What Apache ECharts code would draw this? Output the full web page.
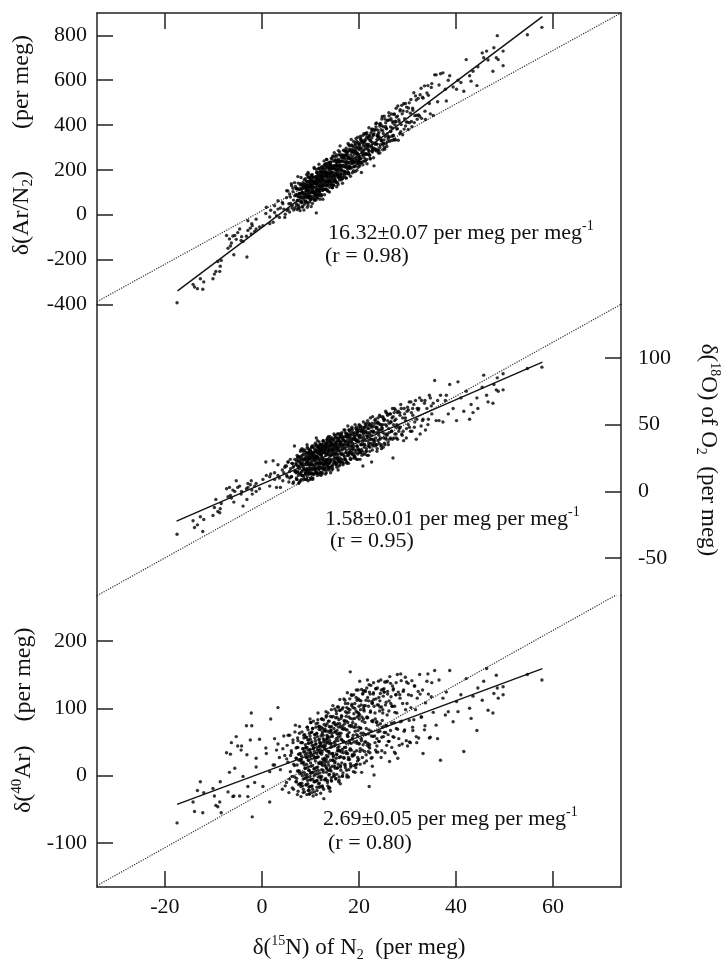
<!DOCTYPE html>
<html><head><meta charset="utf-8">
<script src="https://cdn.jsdelivr.net/npm/echarts@6/dist/echarts.min.js"></script>
<style>html,body{margin:0;padding:0;background:#fff}#c{width:724px;height:965px}</style>
</head><body><div id="c"></div>
<script>
// ---- tick labels ----
const xTicks = [-20, 0, 20, 40, 60];
const arN2Ticks = [-400, -200, 0, 200, 400, 600, 800];
const o18Ticks = [-50, 0, 50, 100];
const ar40Ticks = [-100, 0, 100, 200];

// ---- samples: δ15N of N2 (x, shared by the three panels) ----
const d15N = [
 -17.5,-14.2,-13.9,-13.3,-12.7,-12.2,-12.0,-10.1,-9.8,-9.5,
 -9.1,-8.7,-8.6,-8.4,-7.3,-7.0,-6.7,-6.5,-6.3,-6.0,
 -5.8,-5.6,-5.3,-5.0,-4.6,-4.3,-4.2,-3.9,-3.2,-3.1,
 -2.9,-2.9,-2.4,-2.2,-2.1,-2.0,-1.5,-1.2,-1.2,-0.5,
 0.2,0.8,0.9,1.6,1.6,1.8,2.3,2.6,2.6,3.0,
 3.3,3.3,3.6,3.8,4.2,4.5,4.7,
 4.3,4.8,5.1,5.4,5.7,5.9,
 6.1,6.2,6.4,6.5,6.7,6.8,7.0,7.1,7.3,7.4,7.6,7.7,7.9,8.0,
 8.1,8.2,8.3,8.4,8.5,8.6,8.7,8.8,8.9,9.0,9.1,9.2,9.3,9.4,9.5,9.5,9.6,9.7,9.8,9.8,9.9,9.9,10.0,
 10.1,10.1,10.2,10.3,10.3,10.4,10.5,10.5,10.6,10.7,10.8,10.8,10.9,11.0,11.0,11.1,11.2,11.3,11.3,11.4,11.5,11.5,11.6,11.7,11.8,11.8,11.9,12.0,
 12.1,12.1,12.2,12.3,12.3,12.4,12.5,12.5,12.6,12.7,12.8,12.8,12.9,13.0,13.0,13.1,13.2,13.3,13.3,13.4,13.5,13.5,13.6,13.7,13.8,13.8,13.9,14.0,
 14.1,14.2,14.2,14.3,14.4,14.5,14.5,14.6,14.7,14.8,14.9,15.0,15.0,15.1,15.2,15.3,15.3,15.4,15.5,15.5,15.6,15.7,15.8,15.8,15.9,16.0,16.0,
 16.1,16.2,16.3,16.4,16.5,16.6,16.7,16.8,16.9,17.0,17.0,17.1,17.2,17.3,17.4,17.5,17.5,17.6,17.7,17.8,17.8,17.9,18.0,18.0,
 18.1,18.2,18.3,18.4,18.5,18.6,18.7,18.8,18.9,19.0,19.1,19.2,19.3,19.4,19.5,19.5,19.6,19.7,19.8,19.9,20.0,20.0,
 20.1,20.2,20.3,20.4,20.5,20.6,20.7,20.8,20.9,21.0,21.1,21.2,21.3,21.4,21.5,21.6,21.7,21.8,21.9,22.0,
 22.1,22.2,22.3,22.5,22.6,22.7,22.8,22.9,23.0,23.1,23.3,23.4,23.5,23.6,23.7,23.8,23.9,24.0,
 24.1,24.3,24.4,24.6,24.7,24.9,25.0,25.2,25.3,25.5,25.6,25.7,25.8,25.9,26.0,
 26.2,26.3,26.5,26.7,26.8,27.0,27.1,27.3,27.4,27.6,27.7,27.9,28.0,
 28.2,28.4,28.5,28.7,28.9,29.0,29.2,29.4,29.6,29.8,30.0,
 30.2,30.4,30.7,30.9,31.1,31.3,31.5,31.8,32.0,
 32.3,32.6,32.9,33.2,33.5,33.7,34.0,
 34.3,34.7,35.0,35.3,35.6,35.9,
 36.2,36.5,36.8,37.3,37.8,
 38.0,38.4,38.7,39.4,
 40.1,40.4,41.0,41.6,42.1,42.8,43.1,43.5,44.3,44.5,
 45.4,45.7,46.3,46.6,47.6,47.8,48.3,48.5,48.7,49.7,
 49.7,54.7,57.7,
 // second pass over the dense core
 5.05,5.2,5.35,5.55,5.7,5.85,6.05,6.25,6.4,6.55,6.75,6.9,
 7.05,7.15,7.25,7.35,7.45,7.55,7.65,7.75,7.85,7.95,8.0,8.05,8.15,8.2,8.25,8.35,8.45,8.5,8.55,8.65,8.75,8.8,8.85,8.95,
 9.05,9.1,9.15,9.25,9.3,9.35,9.45,9.55,9.6,9.65,9.75,9.85,9.9,9.95,10.05,10.1,10.15,10.25,10.3,10.35,10.45,10.55,10.6,10.65,10.75,10.85,10.9,10.95,10.05,10.45,10.65,10.85,9.45,9.75,
 11.05,11.1,11.15,11.2,11.25,11.35,11.4,11.45,11.55,11.6,11.65,11.75,11.8,11.85,11.95,12.05,12.1,12.15,12.25,12.3,12.35,12.45,12.5,12.55,12.65,12.7,12.75,12.85,12.9,12.95,11.3,11.7,12.2,12.6,12.4,11.9,
 13.05,13.1,13.15,13.25,13.3,13.35,13.45,13.55,13.6,13.65,13.75,13.85,13.9,13.95,14.05,14.1,14.15,14.25,14.3,14.35,14.45,14.55,14.6,14.65,14.75,14.85,14.9,14.95,13.4,13.8,14.2,14.7,13.2,14.4,
 15.05,15.1,15.2,15.25,15.35,15.4,15.45,15.55,15.6,15.7,15.75,15.85,15.9,15.95,16.05,16.1,16.2,16.25,16.35,16.4,16.45,16.55,16.6,16.7,16.75,16.85,16.9,16.95,15.65,16.15,
 17.05,17.1,17.2,17.25,17.35,17.45,17.55,17.6,17.65,17.75,17.85,17.9,17.95,18.05,18.1,18.2,18.25,18.35,18.45,18.55,18.6,18.65,18.75,18.85,18.9,18.95,17.4,
 19.05,19.15,19.25,19.35,19.45,19.55,19.65,19.75,19.85,19.95,20.05,20.15,20.25,20.35,20.45,20.55,20.65,20.75,20.85,20.95,19.5,20.0,20.5,20.9,
 21.05,21.15,21.25,21.35,21.45,21.55,21.65,21.75,21.85,21.95,22.05,22.15,22.25,22.35,22.45,22.55,22.65,22.75,22.85,22.95,22.0,
 23.05,23.2,23.35,23.45,23.6,23.75,23.85,24.0,24.15,24.25,24.4,24.55,24.65,24.8,24.95,23.7,24.3,24.9,
 25.05,25.15,25.35,25.45,25.6,25.75,25.9,26.05,26.15,26.35,26.5,26.6,26.75,26.9,25.25,
 27.05,27.2,27.35,27.5,27.65,27.8,27.95,28.1,28.3,28.45,28.6,28.8,
 29.1,29.3,29.55,29.75,29.9,30.15,30.35,30.6,30.8,
 31.05,31.4,31.65,31.9,32.2,32.5,32.8,
 33.1,33.6,34.2,34.5,34.9,
 // third pass over the densest part
 7.02,7.12,7.22,7.32,7.42,7.52,7.62,7.72,7.82,7.92,8.02,8.12,8.22,8.32,8.42,8.52,8.62,8.72,8.82,8.92,
 9.02,9.08,9.12,9.18,9.22,9.28,9.32,9.42,9.48,9.52,9.58,9.62,9.72,9.78,9.82,9.88,9.92,9.98,10.02,10.08,10.12,10.22,10.28,10.32,10.42,10.52,10.62,10.72,10.82,10.92,
 11.02,11.08,11.12,11.18,11.22,11.28,11.32,11.42,11.48,11.52,11.58,11.62,11.72,11.78,11.82,11.88,11.92,11.98,12.02,12.08,12.12,12.22,12.28,12.32,12.42,12.48,12.52,12.62,12.72,12.78,12.82,12.92,
 13.02,13.08,13.12,13.18,13.22,13.28,13.32,13.42,13.48,13.52,13.58,13.62,13.72,13.78,13.82,13.88,13.92,13.98,14.02,14.08,14.12,14.22,14.28,14.32,14.42,14.52,14.62,14.72,14.82,14.92,
 15.02,15.08,15.12,15.18,15.28,15.32,15.42,15.48,15.58,15.62,15.72,15.78,15.88,15.92,16.02,16.08,16.12,16.18,16.28,16.32,16.42,16.48,16.58,16.68,16.78,16.88,
 17.02,17.12,17.22,17.32,17.42,17.52,17.62,17.72,17.82,17.92,18.02,18.12,18.22,18.32,18.42,18.52,18.62,18.72,18.82,18.92,17.48,18.38,
 19.02,19.12,19.22,19.32,19.42,19.52,19.62,19.72,19.82,19.92,20.02,20.12,20.22,20.32,20.42,20.52,20.72,20.92,
 21.02,21.18,21.32,21.48,21.62,21.78,21.92,22.08,22.22,22.38,22.52,22.68,22.82,22.98,
 23.1,23.3,23.5,23.7,23.9,24.1,24.3,24.5,24.7,24.9,
 25.15,25.5,25.85,26.2,26.55,26.9,27.25,27.6
];

// ---- δ(Ar/N2) per meg (top panel) ----
const arN2 = [
 -393,-311,-323,-330,-286,-333,-300,-286,-265,-253,
 -209,-253,-230,-204,-93,-150,-108,-140,-126,-95,
 -179,-93,-110,-80,-64,-115,-98,-120,-96,-189,
 -27,-70,-60,-86,-40,-49,-75,-64,-20,-55,
 -49,5,33,-10,-40,20,-34,10,40,-5,
 62,25,-12,30,55,25,-12,
 49,2,107,25,92,50,
 129,30,118,65,143,30,88,115,63,170,28,95,133,79,
 56,133,99,36,118,89,156,77,134,61,107,179,91,127,44,188,110,82,164,104,145,70,132,
 135,70,176,108,153,50,126,166,98,139,76,206,123,159,94,141,8,114,74,161,137,177,109,206,127,102,164,196,
 121,181,88,159,214,136,178,108,154,206,240,173,89,191,151,203,129,171,246,112,189,149,226,132,169,199,151,222,
 209,155,235,132,189,205,120,262,179,260,157,204,174,240,152,198,223,125,217,187,243,175,267,167,203,240,155,
 307,173,265,201,253,160,221,288,194,251,181,233,284,211,163,264,229,276,203,254,189,311,217,252,
 209,286,252,336,311,227,279,245,302,214,270,192,284,340,252,302,228,270,322,243,290,225,
 307,248,335,232,188,330,266,223,310,361,253,295,331,273,359,246,313,294,346,273,
 284,351,252,326,382,284,321,357,254,218,314,380,292,409,315,352,289,345,
 367,300,407,330,397,290,362,440,292,394,316,383,360,421,338,
 346,423,371,449,331,409,351,449,401,334,436,384,485,
 424,362,469,402,450,357,495,428,396,480,413,
 476,410,514,393,466,544,442,512,426,
 445,535,430,520,575,425,543,
 533,450,585,443,624,624,
 504,579,629,633,560,
 507,600,620,570,
 560,600,590,551,692,620,596,640,576,660,
 722,700,730,690,640,745,700,799,692,665,
 730,803,836,
 76,19,106,49,12,79,138,41,103,21,84,126,
 50,117,23,90,141,43,80,116,18,95,75,166,58,119,34,96,143,69,119,21,138,93,59,161,
 119,54,150,87,133,33,115,182,77,148,100,57,127,168,80,121,36,153,99,180,71,123,149,100,211,68,139,89,160,106,145,63,170,80,
 104,170,66,137,202,94,155,126,187,88,149,225,111,172,69,145,191,127,174,89,210,117,168,69,190,151,112,223,144,180,188,85,153,129,191,103,
 187,113,223,145,171,247,108,185,136,216,163,210,101,186,233,149,180,131,252,168,215,121,207,148,239,171,277,148,182,149,220,134,229,174,
 154,245,182,268,144,215,236,173,203,135,286,217,163,234,201,266,178,219,156,256,197,239,140,266,217,254,174,285,179,222,
 267,193,239,165,297,233,190,266,217,318,185,256,232,293,214,251,171,283,245,211,307,238,280,196,327,233,278,
 215,281,318,244,296,198,274,346,238,314,261,217,294,341,252,284,321,237,354,265,277,235,328,285,
 322,239,305,362,269,345,227,303,340,287,388,265,332,248,365,307,343,280,381,298,313,
 295,377,320,406,284,351,378,275,348,404,312,379,331,438,311,335,275,375,
 392,319,427,349,386,304,421,349,455,328,391,428,350,387,300,
 355,447,335,417,475,382,440,332,415,463,370,488,
 463,382,496,414,461,380,499,453,416,
 475,411,530,444,519,439,564,
 524,462,576,496,568,
 88,40,117,63,80,112,33,95,61,138,80,111,53,100,131,78,125,46,98,119,
 81,127,58,109,149,75,106,138,54,124,100,166,77,123,89,150,101,137,67,118,144,101,172,82,129,115,167,99,145,87,
 149,105,170,86,137,188,114,160,76,137,173,103,150,131,207,93,158,129,190,116,177,83,144,170,111,202,133,190,131,162,218,115,
 136,192,113,174,214,150,186,128,169,209,105,186,153,234,144,180,211,122,203,169,224,146,192,137,249,161,187,219,131,212,
 219,165,240,146,203,259,180,231,143,219,195,246,168,218,280,186,212,168,239,200,267,183,239,166,258,214,
 191,263,215,286,183,250,236,208,284,181,253,309,206,268,229,291,187,259,286,232,284,239,
 289,236,312,219,276,327,234,270,212,299,260,317,249,350,232,298,277,325,
 272,334,241,314,366,269,306,354,266,334,301,374,291,354,
 361,289,392,315,359,287,395,338,427,320,
 334,410,325,441,372,417,333,414
];

// ---- δ18O of O2 per meg (middle panel) ----
const o18 = [
 -32,-22,-27,-25,-19,-30,-21,-18,-12,-6,
 -15,-16,-13,-9,2,-4,3,-3,-5,1,
 -8,0,8,3,4,-2,0,-11,2,-6,
 3,6,5,8,1,-2,4,0,6,2,
 9,22,12,11,4,13,23,14,9,3,
 20,12,10,3,16,14,18,
 8,19,12,22,10,17,
 11,21,18,7,34,15,21,10,25,14,19,7,23,31,
 21,12,27,16,31,11,20,24,9,27,16,20,35,15,23,8,29,20,25,14,31,18,27,
 20,30,13,26,33,17,23,10,29,26,16,32,23,19,36,15,40,26,14,31,21,34,18,28,23,32,13,28,
 30,18,27,35,21,14,32,25,38,20,29,17,34,24,31,13,35,28,22,38,19,31,24,41,21,30,34,18,
 23,36,27,39,19,31,34,17,31,38,25,42,22,29,34,20,37,28,40,24,33,16,38,31,23,35,43,
 37,22,33,42,28,39,20,35,41,26,33,46,24,37,31,43,22,38,49,42,27,36,46,29,
 30,43,24,37,47,29,36,43,34,27,41,50,29,38,46,24,42,33,45,31,40,29,
 42,29,49,35,40,27,46,19,52,39,33,48,38,45,30,44,27,47,41,36,
 34,50,39,45,22,48,56,34,44,38,53,34,48,44,30,51,38,46,
 51,39,56,35,46,50,33,54,43,60,39,49,42,57,37,
 51,39,58,45,55,25,50,62,43,54,40,59,49,
 45,59,48,62,42,55,38,58,53,47,63,
 61,48,67,45,57,65,52,39,62,
 62,43,68,54,66,46,62,
 54,70,58,66,83,53,
 68,53,72,52,68,
 72,58,80,62,
 53,82,70,60,75,54,65,59,70,62,
 78,87,72,67,66,80,76,85,75,76,
 88,92,93,
 19,11,22,7,15,24,11,21,6,19,24,15,
 20,9,27,15,23,6,18,26,13,30,14,20,9,24,32,12,22,18,28,9,24,16,31,13,
 14,29,22,9,25,33,17,28,13,21,31,16,25,9,29,22,14,33,20,28,13,25,34,18,13,30,24,17,30,9,27,25,16,29,
 27,14,35,22,30,17,26,38,13,29,21,33,17,25,35,21,31,12,28,33,17,25,35,20,38,23,29,16,33,20,25,33,21,30,13,30,
 21,34,27,14,36,24,33,40,19,29,17,32,37,27,22,39,14,32,35,24,40,19,31,28,21,43,27,35,36,16,29,33,21,36,
 36,25,41,21,32,35,18,38,28,43,24,31,40,22,35,20,41,28,37,24,44,31,35,22,40,27,46,32,26,37,
 24,37,44,29,41,22,35,43,27,34,21,41,37,29,45,25,40,34,31,48,28,44,33,40,25,39,41,
 42,26,39,47,31,44,34,24,45,37,50,31,42,29,45,35,48,37,44,28,38,49,31,43,
 35,48,28,44,51,32,41,49,38,27,47,43,33,55,36,42,49,31,45,39,51,
 49,36,54,40,47,32,52,44,36,57,40,50,32,47,55,35,46,44,
 40,54,35,50,59,43,53,35,47,58,40,52,45,62,36,
 56,40,53,61,43,50,39,60,47,57,65,43,
 45,62,55,40,60,50,67,45,59,
 62,48,68,54,61,70,49,
 53,68,50,72,64,
 14,23,9,19,26,12,22,17,25,8,21,26,15,20,12,24,30,17,25,14,
 24,13,21,29,17,26,11,22,32,16,24,20,28,13,26,31,17,21,29,10,24,28,16,34,20,26,13,29,20,24,
 17,31,21,34,14,26,29,12,25,33,20,29,16,37,24,19,31,14,29,35,22,27,14,33,24,31,18,37,22,29,17,31,
 31,18,36,23,33,16,29,39,21,28,35,23,18,31,38,25,21,34,41,18,31,23,37,27,16,35,29,39,23,31,
 22,33,40,28,20,36,31,25,43,22,33,39,19,38,30,36,25,41,28,43,22,34,40,28,21,38,
 38,24,35,43,29,21,40,35,28,46,32,39,24,42,38,28,46,32,39,27,42,34,
 31,44,25,39,48,34,43,28,38,47,31,41,24,47,35,45,30,41,
 46,35,50,30,42,53,34,44,30,49,39,51,35,45,
 38,51,35,48,55,42,50,34,48,56,
 53,40,58,44,52,39,59,48
];

// ---- δ40Ar per meg (bottom panel) ----
const ar40 = [
 -70,-39,-53,-22,-9,-55,-25,-19,-30,-44,
 -46,-39,-9,-55,34,-24,5,32,49,-31,
 -30,11,58,44,-30,38,44,-1,74,31,
 -16,-31,53,93,74,-61,-10,26,13,54,
 -16,41,33,6,-39,84,16,55,16,38,
 101,47,27,9,-20,59,30,
 40,-15,25,60,-5,30,
 34,-1,49,-20,15,65,-9,26,-28,42,7,32,-12,24,
 24,-11,49,19,-25,35,5,61,1,41,-14,17,33,-2,68,13,48,-17,28,-27,39,59,4,
 4,49,25,-15,65,15,40,-5,81,10,36,-24,56,22,2,47,-28,33,63,-7,28,78,8,43,-17,54,19,39,
 47,-3,72,17,32,62,-17,43,8,83,23,53,-6,39,69,14,95,5,30,60,-10,50,20,81,1,36,57,-18,
 12,67,47,-3,87,33,58,23,78,3,44,99,19,65,-5,55,75,31,11,86,41,62,-9,72,27,97,37,
 59,15,85,35,70,0,101,51,27,82,42,112,12,68,33,93,-2,59,79,24,99,9,49,74,
 38,154,13,120,104,54,79,30,120,50,85,5,76,96,37,61,112,22,67,93,48,103,
 91,36,71,111,52,87,27,122,63,98,19,79,104,50,70,130,45,86,36,111,
 -16,41,121,66,81,27,108,58,138,1,93,38,114,79,55,130,65,105,
 51,102,77,127,37,93,118,64,139,74,109,45,90,125,61,
 111,21,137,78,103,58,129,35,94,120,70,150,26,
 55,120,80,141,47,107,127,68,98,139,44,
 120,50,101,141,67,83,133,58,115,
 56,121,87,33,68,108,140,
 121,57,138,94,156,75,
 55,142,23,115,90,
 124,95,156,80,
 110,95,120,36,144,100,85,118,67,130,
 112,140,159,97,93,122,149,130,115,132,
 120,150,142,
 -10,45,20,-25,60,6,37,-18,53,17,-2,75,
 41,-4,16,56,-23,32,7,73,-12,23,49,-31,29,4,65,-15,40,-5,20,56,-24,36,11,46,
 57,-3,27,-28,42,72,-12,23,53,8,-22,38,84,-6,34,14,64,-16,50,5,70,-30,30,45,0,61,-9,27,79,-20,41,11,53,-27,
 -8,47,77,12,62,-22,38,3,93,28,-12,53,18,73,-1,34,-26,59,44,9,84,-15,70,25,5,50,-34,42,67,17,27,73,-6,60,20,44,
 44,-6,74,24,89,10,55,-15,66,36,16,81,2,52,-23,72,42,7,98,-8,63,33,23,88,-1,49,79,14,55,-19,67,28,48,43,
 21,76,46,-4,92,32,67,102,12,57,37,83,-7,63,113,28,73,8,54,89,19,99,39,4,69,50,26,81,52,-12,
 77,17,107,42,88,8,68,123,33,58,-2,94,64,24,114,40,85,15,75,106,31,56,101,6,72,92,48,
 31,107,72,12,127,48,94,59,114,24,84,140,40,70,105,5,81,121,46,101,17,89,55,126,
 96,36,126,61,112,22,87,142,48,103,68,124,34,94,134,59,110,14,80,121,43,
 113,59,84,129,35,105,75,140,51,96,122,27,102,82,128,44,111,72,
 58,129,34,105,139,74,121,51,96,147,67,117,42,103,124,
 127,57,103,33,138,93,69,124,45,115,151,81,
 125,66,146,52,107,137,82,49,119,
 72,133,98,49,125,150,87,
 127,74,151,56,117,
 26,-9,42,7,52,-13,23,63,3,33,-16,19,49,0,40,-20,60,16,-4,31,
 11,42,-13,57,27,2,72,-7,38,-22,48,23,8,63,-16,34,-1,54,19,79,-6,30,-25,45,70,5,41,-9,26,61,
 52,7,72,-8,27,42,-17,58,13,83,-2,38,19,69,-11,49,4,34,68,-16,49,19,84,-1,35,65,15,55,-20,45,76,26,
 21,66,-4,52,87,12,37,77,-7,58,28,93,8,48,-17,73,33,64,8,88,23,48,-7,73,59,14,104,30,70,0,
 65,11,51,86,26,96,2,62,37,77,17,102,43,-2,77,37,97,13,63,28,88,53,-1,74,34,114,
 70,15,95,36,81,1,61,107,27,87,52,98,18,73,38,119,29,84,60,15,101,48,
 35,100,66,16,116,51,87,27,127,72,47,112,17,98,63,128,38,84,
 104,50,125,31,86,116,62,135,46,96,26,107,82,123,
 103,49,129,80,35,116,66,142,57,98,
 124,64,140,51,107,133,79,120
];

// ---- fitted regression lines (endpoints) ----
const fitArN2 = [[-17.4, -340], [57.8, 884]];
const fitO18  = [[-17.6, -22.2], [57.8, 96.7]];
const fitAr40 = [[-17.5, -42.4], [57.8, 158.8]];
// ---- dotted reference lines ----
const refArN2 = [[-34, -388], [74, 900]];
const refO18  = [[-34, -78], [74, 140]];
const refAr40 = [[-34, -163], [74, 272]];

// ---- axis ranges ----
const xRange = [-34, 74];
const arN2Range = [-400, 900];
const o18Range = [-78, 140];
const ar40Range = [-165, 267];

const F = '"Liberation Serif","Times New Roman",serif';
const INK = '#111';
function rich(size) {
  const s = Math.round(size * 0.62);
  return {
    t: { fontFamily: F, fontSize: size, fontWeight: 'normal', color: INK, lineHeight: 28 },
    sup: { fontFamily: F, fontSize: s, fontWeight: 'normal', color: INK, lineHeight: 13, verticalAlign: 'top' },
    sub: { fontFamily: F, fontSize: s, fontWeight: 'normal', color: INK, lineHeight: 13, verticalAlign: 'bottom' }
  };
}
const pts = (xs, ys) => xs.map((x, i) => [x, ys[i]]).filter(p => p[1] !== undefined);

const lineCol = '#222', lineW = 1.5;
const axLine = { show: true, onZero: false, lineStyle: { color: lineCol, width: lineW } };
const tickStyle = { color: lineCol, width: lineW };
const lblStyle = { fontFamily: F, fontSize: 22, color: INK };

const gTop = 13, gH = 291.33;
const grids = [0, 1, 2].map(i => ({
  left: 97, right: 103, top: gTop + i * gH, height: gH,
  containLabel: false, outerBoundsMode: 'none'
}));

const xAxes = [
  { gridIndex: 0, type: 'value', position: 'top', min: xRange[0], max: xRange[1],
    axisLine: axLine, splitLine: { show: false },
    axisTick: { show: true, inside: true, length: 16, lineStyle: tickStyle, customValues: xTicks },
    axisLabel: { show: false } },
  { gridIndex: 1, type: 'value', min: xRange[0], max: xRange[1], show: false, splitLine: { show: false } },
  { gridIndex: 2, type: 'value', position: 'bottom', min: xRange[0], max: xRange[1],
    axisLine: axLine, splitLine: { show: false },
    axisTick: { show: true, inside: true, length: 16, lineStyle: tickStyle, customValues: xTicks },
    axisLabel: Object.assign({ show: true, margin: 9, customValues: xTicks }, lblStyle),
    name: '{t|δ(}{sup|15}{t|N) of N}{sub|2}{t|  (per meg)}',
    nameLocation: 'middle', nameGap: 47, nameTextStyle: { rich: rich(23) } }
];

const plainY = (grid, pos, range) => ({
  gridIndex: grid, type: 'value', position: pos, min: range[0], max: range[1],
  axisLine: axLine, axisTick: { show: false }, axisLabel: { show: false }, splitLine: { show: false }
});
const tickY = (grid, pos, range, ticks, margin) => ({
  gridIndex: grid, type: 'value', position: pos, min: range[0], max: range[1],
  axisLine: axLine, splitLine: { show: false },
  axisTick: { show: true, inside: true, length: 16, lineStyle: tickStyle, customValues: ticks },
  axisLabel: Object.assign({ show: true, margin: margin, customValues: ticks }, lblStyle)
});

const yAxes = [
  Object.assign(tickY(0, 'left', arN2Range, arN2Ticks, 10), {
    name: '{t|δ(Ar/N}{sub|2}{t|)       (per meg)}', nameLocation: 'middle', nameGap: 52,
    nameTextStyle: { rich: rich(24), padding: [0, 0, 0, 27] } }),
  plainY(0, 'right', arN2Range),
  plainY(1, 'left', o18Range),
  Object.assign(tickY(1, 'right', o18Range, o18Ticks, 17), {
    name: '{t|δ(}{sup|18}{t|O) of O}{sub|2}{t|  (per meg)}', nameLocation: 'middle', nameGap: 73,
    nameRotate: -90, nameTextStyle: { rich: rich(23) } }),
  Object.assign(tickY(2, 'left', ar40Range, ar40Ticks, 10), {
    name: '{t|δ(}{sup|40}{t|Ar)    (per meg)}', nameLocation: 'middle', nameGap: 52,
    nameTextStyle: { rich: rich(24), padding: [0, 0, 0, 42] } }),
  plainY(2, 'right', ar40Range)
];

const dotStyle = { color: '#333', width: 1.2, type: [1.2, 1.3] };
const fitStyle = { color: INK, width: 1.4 };
function panel(xi, yi, data, ref, fit) {
  return [
    { type: 'line', xAxisIndex: xi, yAxisIndex: yi, data: ref, symbol: 'none', silent: true,
      lineStyle: dotStyle, z: 1 },
    { type: 'scatter', xAxisIndex: xi, yAxisIndex: yi, data: data, symbol: 'circle', symbolSize: 3.4,
      itemStyle: { color: '#000' }, silent: true, z: 2 },
    { type: 'line', xAxisIndex: xi, yAxisIndex: yi, data: fit, symbol: 'none', silent: true,
      lineStyle: fitStyle, z: 3 }
  ];
}

const notes = [
  { left: 328, top: 219, text: '{t|16.32±0.07 per meg per meg}{sup|-1}' },
  { left: 325, top: 242, text: '{t|(r = 0.98)}' },
  { left: 325, top: 505, text: '{t|1.58±0.01 per meg per meg}{sup|-1}' },
  { left: 330, top: 527, text: '{t|(r = 0.95)}' },
  { left: 323, top: 805, text: '{t|2.69±0.05 per meg per meg}{sup|-1}' },
  { left: 328, top: 829, text: '{t|(r = 0.80)}' }
];

const chart = echarts.init(document.getElementById('c'), null, { renderer: 'canvas' });
chart.setOption({
  animation: false,
  backgroundColor: '#fff',
  title: notes.map(n => ({ left: n.left, top: n.top, padding: 0, text: n.text,
    textStyle: { fontWeight: 'normal', rich: rich(22) } })),
  grid: grids,
  xAxis: xAxes,
  yAxis: yAxes,
  series: [].concat(
    panel(0, 0, pts(d15N, arN2), refArN2, fitArN2),
    panel(1, 3, pts(d15N, o18), refO18, fitO18),
    panel(2, 4, pts(d15N, ar40), refAr40, fitAr40)
  )
});
</script></body></html>
